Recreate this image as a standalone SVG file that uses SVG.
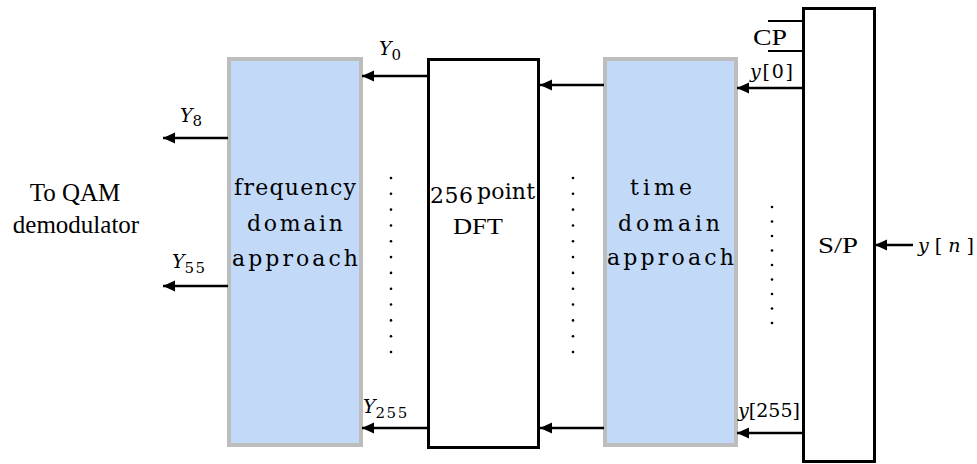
<svg xmlns="http://www.w3.org/2000/svg" width="977" height="464" viewBox="0 0 977 464">
<style>
.blue{fill:#c2daf8;stroke:#bdbdbd;stroke-width:4}
.blk{fill:#ffffff;stroke:#000;stroke-width:3}
.conn{stroke:#000;stroke-width:2.5;fill:none}
.cp{stroke:#000;stroke-width:2;fill:none}
.t{font-family:"Liberation Serif","Times New Roman",serif;fill:#000}
.d{font-family:"DejaVu Serif","Liberation Serif",serif;fill:#000;font-size:22px}
.m{font-family:"DejaVu Serif","Liberation Serif",serif;fill:#000;font-size:19px}
.i{font-style:italic}
.sub{font-size:15px;letter-spacing:1.5px}
.dot{fill:#000}
</style>
<defs>
<marker id="ah" markerUnits="userSpaceOnUse" markerWidth="13" markerHeight="12" refX="12" refY="5.5" orient="auto">
<path d="M0,0 L12,5.5 L0,11 Z" fill="#000"/>
</marker>
</defs>

<g id="freq">
<rect class="blue" x="229" y="59" width="132" height="386"/>
<text class="d" x="295" y="195" text-anchor="middle" textLength="122" lengthAdjust="spacing">frequency</text>
<text class="d" x="295" y="231" text-anchor="middle" textLength="96" lengthAdjust="spacing">domain</text>
<text class="d" x="295" y="266" text-anchor="middle" textLength="126" lengthAdjust="spacing">approach</text>
</g>

<g id="dft">
<rect class="blk" x="428.5" y="59.5" width="110" height="388"/>
<text class="d" font-size="20" x="430" y="203" textLength="43" lengthAdjust="spacing">256</text>
<text class="d" font-size="18" x="477" y="199" textLength="58" lengthAdjust="spacing">point</text>
<text class="t" font-size="24" x="478" y="234" text-anchor="middle" textLength="50" lengthAdjust="spacingAndGlyphs">DFT</text>
</g>

<g id="time">
<rect class="blue" x="605" y="59" width="131" height="386"/>
<text class="d" x="661" y="195" text-anchor="middle" textLength="62" lengthAdjust="spacing">time</text>
<text class="d" x="669" y="231" text-anchor="middle" textLength="102" lengthAdjust="spacing">domain</text>
<text class="d" x="670.5" y="265" text-anchor="middle" textLength="127" lengthAdjust="spacing">approach</text>
</g>

<g id="sp">
<rect class="blk" x="803.5" y="8.5" width="71" height="453"/>
<text class="t" font-size="24" x="838" y="253" text-anchor="middle" textLength="40" lengthAdjust="spacingAndGlyphs">S/P</text>
</g>

<g id="cp">
<line class="cp" x1="768" y1="21" x2="802" y2="21"/>
<line class="cp" x1="768" y1="51" x2="802" y2="51"/>
<text class="t" font-size="24" x="753" y="45" textLength="34" lengthAdjust="spacingAndGlyphs">CP</text>
</g>

<g id="qam">
<text class="t" font-size="25" x="75" y="201" text-anchor="middle">To QAM</text>
<text class="t" font-size="25" x="76" y="233" text-anchor="middle">demodulator</text>
</g>

<g id="connectors">
<line class="conn" x1="913" y1="245" x2="875" y2="245" marker-end="url(#ah)"/>
<line class="conn" x1="802" y1="88" x2="737" y2="88" marker-end="url(#ah)"/>
<line class="conn" x1="802" y1="433" x2="737" y2="433" marker-end="url(#ah)"/>
<line class="conn" x1="604" y1="85" x2="540" y2="85" marker-end="url(#ah)"/>
<line class="conn" x1="604" y1="428" x2="540" y2="428" marker-end="url(#ah)"/>
<line class="conn" x1="427" y1="76" x2="362" y2="76" marker-end="url(#ah)"/>
<line class="conn" x1="427" y1="428" x2="362" y2="428" marker-end="url(#ah)"/>
<line class="conn" x1="228" y1="138" x2="163" y2="138" marker-end="url(#ah)"/>
<line class="conn" x1="228" y1="286" x2="163" y2="286" marker-end="url(#ah)"/>
</g>

<g id="labels">
<text class="m" x="918" y="252" font-size="22" textLength="56" lengthAdjust="spacing"><tspan class="i">y</tspan>[<tspan class="i">n</tspan>]</text>
<text class="m" x="750" y="78" textLength="43" lengthAdjust="spacing"><tspan class="i">y</tspan>[0]</text>
<text class="m" x="738" y="417" textLength="62" lengthAdjust="spacing"><tspan class="i">y</tspan>[255]</text>
<text class="m" x="379" y="55"><tspan class="i">Y</tspan><tspan class="sub" dy="5">0</tspan></text>
<text class="m" x="363" y="413"><tspan class="i">Y</tspan><tspan class="sub" dy="5">255</tspan></text>
<text class="m" x="180" y="122"><tspan class="i">Y</tspan><tspan class="sub" dy="4">8</tspan></text>
<text class="m" x="172" y="268"><tspan class="i">Y</tspan><tspan class="sub" dy="5">55</tspan></text>
</g>

<g id="dots">
<circle class="dot" cx="391" cy="178" r="1.3"/><circle class="dot" cx="391" cy="193.8" r="1.3"/><circle class="dot" cx="391" cy="209.6" r="1.3"/><circle class="dot" cx="391" cy="225.5" r="1.3"/><circle class="dot" cx="391" cy="241.3" r="1.3"/><circle class="dot" cx="391" cy="257.1" r="1.3"/><circle class="dot" cx="391" cy="272.9" r="1.3"/><circle class="dot" cx="391" cy="288.7" r="1.3"/><circle class="dot" cx="391" cy="304.5" r="1.3"/><circle class="dot" cx="391" cy="320.4" r="1.3"/><circle class="dot" cx="391" cy="336.2" r="1.3"/><circle class="dot" cx="391" cy="352" r="1.3"/>
<circle class="dot" cx="573" cy="178" r="1.3"/><circle class="dot" cx="573" cy="193.8" r="1.3"/><circle class="dot" cx="573" cy="209.6" r="1.3"/><circle class="dot" cx="573" cy="225.5" r="1.3"/><circle class="dot" cx="573" cy="241.3" r="1.3"/><circle class="dot" cx="573" cy="257.1" r="1.3"/><circle class="dot" cx="573" cy="272.9" r="1.3"/><circle class="dot" cx="573" cy="288.7" r="1.3"/><circle class="dot" cx="573" cy="304.5" r="1.3"/><circle class="dot" cx="573" cy="320.4" r="1.3"/><circle class="dot" cx="573" cy="336.2" r="1.3"/><circle class="dot" cx="573" cy="352" r="1.3"/>
<circle class="dot" cx="772" cy="207" r="1.3"/><circle class="dot" cx="772" cy="221.5" r="1.3"/><circle class="dot" cx="772" cy="236" r="1.3"/><circle class="dot" cx="772" cy="250.5" r="1.3"/><circle class="dot" cx="772" cy="265" r="1.3"/><circle class="dot" cx="772" cy="279.5" r="1.3"/><circle class="dot" cx="772" cy="294" r="1.3"/><circle class="dot" cx="772" cy="308.5" r="1.3"/><circle class="dot" cx="772" cy="323" r="1.3"/>
</g>
</svg>
